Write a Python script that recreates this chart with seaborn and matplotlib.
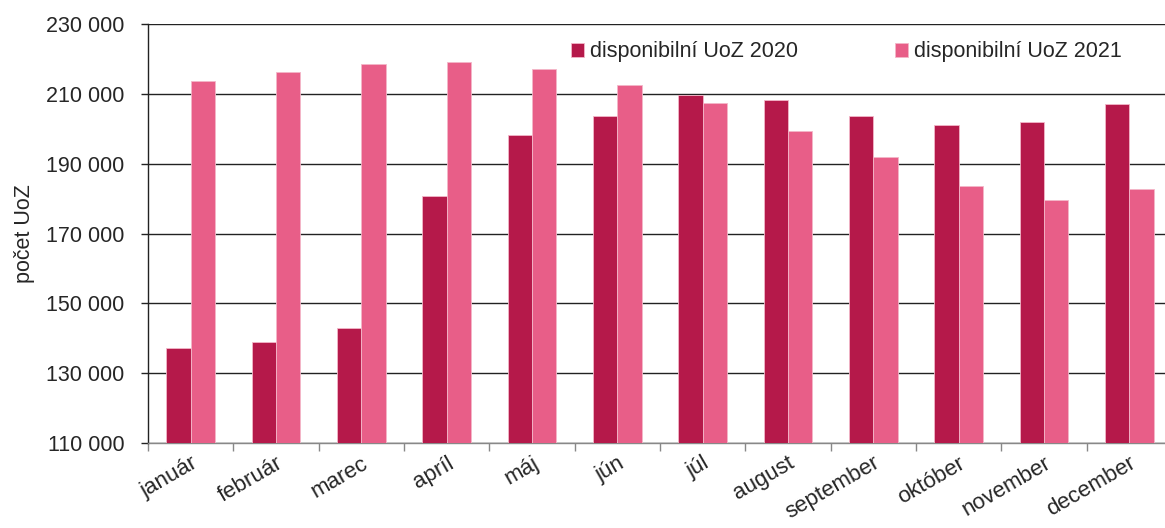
import matplotlib
matplotlib.use("Agg")
import matplotlib.pyplot as plt
from matplotlib import font_manager
from matplotlib.ticker import FixedLocator, FuncFormatter
import seaborn as sns
import pandas as pd
import numpy as np

# Data
months = ["január", "február", "marec", "apríl", "máj", "jún",
          "júl", "august", "september", "október", "november", "december"]
uoz_2020 = [137100, 139000, 143000, 180700, 198200, 203600,
            209600, 208300, 203600, 201200, 201900, 207200]
uoz_2021 = [213700, 216300, 218500, 219100, 217100, 212500,
            207300, 199400, 192000, 183700, 179500, 182700]
series_names = ["disponibilní UoZ 2020", "disponibilní UoZ 2021"]
y_ticks = [110000, 130000, 150000, 170000, 190000, 210000, 230000]

COLORS = {
    series_names[0]: "#B5194A",
    series_names[1]: "#E85E88",
}

sns.set_theme(style="white")
available = {f.name for f in font_manager.fontManager.ttflist}
family = "Liberation Sans Narrow" if "Liberation Sans Narrow" in available else "Liberation Sans"
plt.rcParams["font.family"] = [family, "DejaVu Sans"]
fs = 18 if family == "Liberation Sans Narrow" else 15.5

df = pd.DataFrame({
    "month": months * 2,
    "value": uoz_2020 + uoz_2021,
    "series": [series_names[0]] * len(months) + [series_names[1]] * len(months),
})

fig = plt.figure(figsize=(11.65, 5.28), dpi=100)
ax = fig.add_axes([148 / 1165, 1 - 443 / 528, (1172 - 148) / 1165, (443 - 24) / 528])

sns.barplot(data=df, x="month", y="value", hue="series", order=months,
            hue_order=series_names, palette=COLORS, saturation=1, width=0.57, gap=0,
            edgecolor="#F3B7C8", linewidth=0.6, ax=ax, zorder=3)

ax.set_ylim(110000, 230000)
ax.set_xlim(-0.5, len(months) - 0.5)
ax.set_yticks(y_ticks)
ax.yaxis.set_major_formatter(FuncFormatter(lambda v, p: f"{v:,.0f}".replace(",", " ")))
ax.grid(axis="y", color="#222222", linewidth=1.0, zorder=0)
ax.set_axisbelow(True)

# category boundary ticks on the x axis
ax.xaxis.set_minor_locator(FixedLocator(np.arange(-0.5, len(months), 1.0)))
ax.tick_params(axis="x", which="major", length=0, pad=7, labelsize=fs + 0.5)
ax.tick_params(axis="x", which="minor", bottom=True, length=6, width=1, color="#888888")
ax.tick_params(axis="y", which="major", left=True, length=5, width=1, color="#222222",
               pad=12, labelsize=fs)
for lab in ax.get_xticklabels():
    lab.set_rotation(30)
    lab.set_ha("right")
    lab.set_rotation_mode("anchor")

for side in ["top", "right"]:
    ax.spines[side].set_visible(False)
ax.spines["left"].set_color("#222222")
ax.spines["left"].set_linewidth(1)
ax.spines["bottom"].set_color("#888888")
ax.spines["bottom"].set_linewidth(1)

ax.set_xlabel("")
ax.set_ylabel("počet UoZ", fontsize=fs, labelpad=8)

ax.legend(loc="center left", bbox_to_anchor=(562 / 1165, 1 - 52 / 528),
          bbox_transform=fig.transFigure, ncol=2, frameon=False,
          fontsize=fs, handlelength=0.6, handleheight=0.6, handletextpad=0.3,
          columnspacing=4.5, borderaxespad=0)

fig.savefig("out.png", dpi=100)
